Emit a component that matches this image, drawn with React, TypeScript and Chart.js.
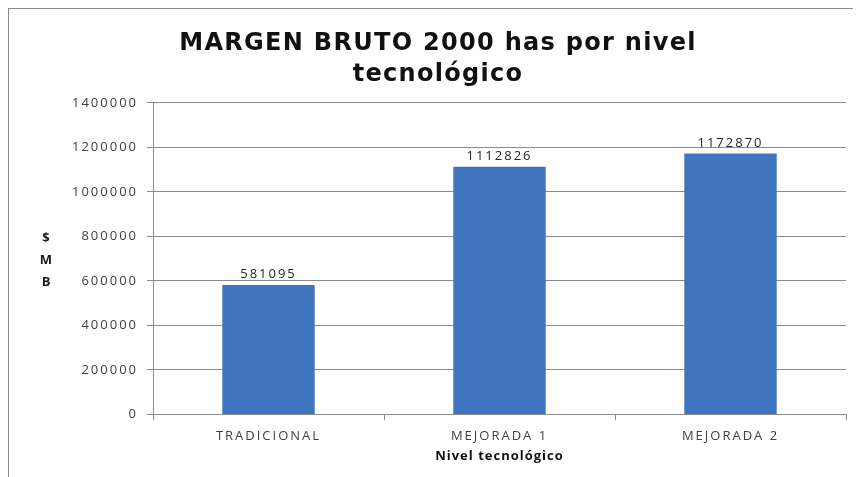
import React, { useEffect, useRef } from "react";
import { Chart, registerables } from "chart.js";

Chart.register(...registerables);

const categories = ["TRADICIONAL", "MEJORADA 1", "MEJORADA 2"];
const values = [581095, 1112826, 1172870];
const titleLines = ["MARGEN BRUTO 2000 has por nivel", "tecnológico"];
const xTitle = "Nivel tecnológico";
const yTitleLetters = ["$", "M", "B"];
const yMax = 1400000;
const yStep = 200000;

const FONT = "'Open Sans', 'Noto Sans', sans-serif";
const TITLE_FONT = "'DejaVu Sans', 'Open Sans', sans-serif";

const spacingPlugin = {
  id: "spacing",
  beforeLayout(chart: any) {
    chart.ctx.letterSpacing = "0px";
  },
  beforeDraw(chart: any) {
    chart.ctx.letterSpacing = "1.3px";
  },
  afterDatasetsDraw(chart: any) {
    const ctx = chart.ctx;
    const meta = chart.getDatasetMeta(0);
    ctx.save();
    ctx.letterSpacing = "2px";
    ctx.font = `13px ${FONT}`;
    ctx.fillStyle = "#262626";
    ctx.textAlign = "center";
    ctx.textBaseline = "bottom";
    meta.data.forEach((el: any, i: number) => {
      ctx.fillText(String(values[i]), el.x, el.y - 4);
    });
    ctx.restore();
    ctx.letterSpacing = "2px";
  },
  afterDraw(chart: any) {
    const ctx = chart.ctx;
    const area = chart.chartArea;
    const mid = (area.top + area.bottom) / 2;
    ctx.save();
    ctx.letterSpacing = "0px";
    ctx.font = `bold 13px ${FONT}`;
    ctx.fillStyle = "#1a1a1a";
    ctx.textAlign = "center";
    ctx.textBaseline = "middle";
    yTitleLetters.forEach((t, i) => {
      ctx.fillText(t, 37, mid + (i - 1) * 22 + 2);
    });
    ctx.letterSpacing = "1px";
    ctx.fillStyle = "#111";
    ctx.fillText(xTitle, (area.left + area.right) / 2, chart.height - 21);
    ctx.restore();
  },
};

export default function App() {
  const ref = useRef<HTMLCanvasElement>(null);
  useEffect(() => {
    if (!ref.current) return;
    const chart = new Chart(ref.current, {
      type: "bar",
      data: {
        labels: categories,
        datasets: [
          {
            data: values,
            backgroundColor: "#3F74BF",
            borderWidth: 0,
            categoryPercentage: 0.8,
            barPercentage: 0.5,
          },
        ],
      },
      options: {
        animation: false,
        responsive: false,
        maintainAspectRatio: false,
        layout: { padding: { left: 21, right: 15, top: 0, bottom: 25 } },
        plugins: {
          legend: { display: false },
          tooltip: { enabled: false },
          title: {
            display: true,
            text: titleLines,
            color: "#111",
            font: { family: TITLE_FONT, size: 24, weight: "bold", lineHeight: 1.29 },
            padding: { top: 19, bottom: 13 },
          },
        },
        scales: {
          x: {
            grid: {
              offset: true,
              drawOnChartArea: false,
              drawTicks: true,
              tickLength: 6,
              color: "#8c8c8c",
            },
            border: { color: "#8c8c8c" },
            ticks: {
              z: 1,
              color: "#404040",
              font: { family: FONT, size: 13 },
              padding: 8,
            },
            title: { display: false },
          },
          y: {
            min: 0,
            max: yMax,
            ticks: {
              z: 1,
              stepSize: yStep,
              color: "#404040",
              font: { family: FONT, size: 13 },
              padding: 9,
              callback: (v: any) => String(v),
            },
            grid: { color: "#8c8c8c", tickLength: 6 },
            border: { color: "#8c8c8c" },
            afterFit: (s: any) => {
              s.width = 123;
            },
          },
        },
      },
      plugins: [spacingPlugin],
    });
    return () => chart.destroy();
  }, []);

  return (
    <div
      style={{
        width: 852,
        height: 468,
        borderTop: "1px solid #8a8a8a",
        borderLeft: "1px solid #8a8a8a",
        overflow: "hidden",
        background: "#fff",
      }}
    >
      <canvas ref={ref} width={852} height={468} style={{ display: "block" }} />
    </div>
  );
}
